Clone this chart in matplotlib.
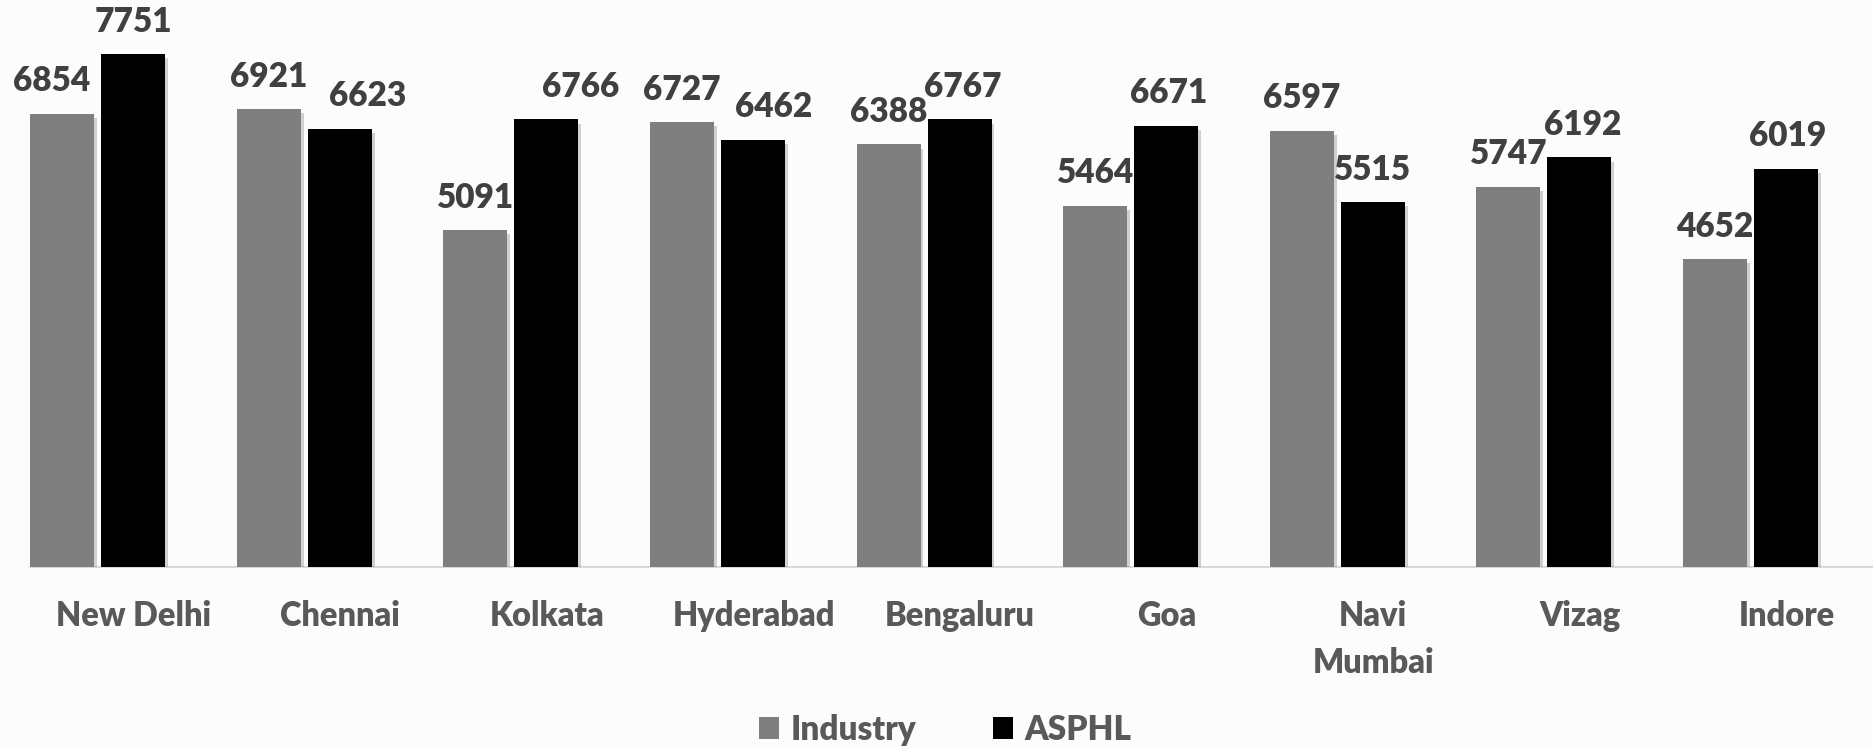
import matplotlib
matplotlib.use("Agg")
import matplotlib.pyplot as plt
import matplotlib.patheffects as pe
import matplotlib.transforms as mtransforms
import numpy as np

# ---- data ----
cities = ["New Delhi", "Chennai", "Kolkata", "Hyderabad", "Bengaluru",
          "Goa", "Navi\nMumbai", "Vizag", "Indore"]
industry = [6854, 6921, 5091, 6727, 6388, 5464, 6597, 5747, 4652]
asphl = [7751, 6623, 6766, 6462, 6767, 6671, 5515, 6192, 6019]
series_names = ["Industry", "ASPHL"]

# ---- style ----
industry_dx = [-11, 0, 0, 0, 0, 0, 0, 0, 0]      # label x nudges (px)
asphl_dx = [0, 28, 34, 21, 3, 2, 0, 3, 2]

W, H, DPI = 1873, 747, 100
bg = "#fcfcfc"
plt.rcParams["font.family"] = ["Lato", "DejaVu Sans"]
plt.rcParams["font.weight"] = "bold"
WEIGHT = "heavy"

fig = plt.figure(figsize=(W / DPI, H / DPI), dpi=DPI, facecolor=bg)
base_px = 567
top_px = base_px - 8000 * 0.06615
ax = fig.add_axes([30 / W, (H - base_px) / H, (W - 30) / W, (base_px - top_px) / H])
ax.set_facecolor("none")

x = np.arange(len(cities))
bw = 0.31
off = 0.172
shadow = [pe.SimplePatchShadow(offset=(2, -3), shadow_rgbFace="#808080", alpha=0.35), pe.Normal()]
b1 = ax.bar(x - off, industry, bw, color="#7f7f7f", label=series_names[0], path_effects=shadow, zorder=3)
b2 = ax.bar(x + off, asphl, bw, color="#000000", label=series_names[1], path_effects=shadow, zorder=3)

ax.set_xlim(-0.328, 8.593)
ax.set_ylim(0, 8000)

pt_per_px = 72 / DPI
for bars, vals, dxs in ((b1, industry, industry_dx), (b2, asphl, asphl_dx)):
    for b, v, dx in zip(bars, vals, dxs):
        ax.annotate(f"{v}", (b.get_x() + b.get_width() / 2, v),
                    xytext=(dx * pt_per_px, 22.5 * pt_per_px), textcoords="offset points",
                    ha="center", va="baseline", fontsize=24, fontweight=WEIGHT,
                    color="#404040", zorder=4)

ax.set_xticks(x)
ax.set_xticklabels(cities, fontsize=23.5, fontweight=WEIGHT, color="#595959", linespacing=1.55)
ax.tick_params(axis="x", length=0, pad=24)
shift = mtransforms.ScaledTranslation(36 / DPI, 0, fig.dpi_scale_trans)
for lab in ax.get_xticklabels():
    lab.set_transform(lab.get_transform() + shift)
ax.set_yticks([])
for s in ["top", "left", "right"]:
    ax.spines[s].set_visible(False)
ax.spines["bottom"].set_color("#d9d9d9")
ax.spines["bottom"].set_linewidth(1.5)

leg = fig.legend(handles=[b1, b2], labels=series_names, loc="center",
                 bbox_to_anchor=(945 / W, 17 / H), ncol=2, frameon=False,
                 prop={"size": 24, "weight": WEIGHT},
                 handlelength=0.62, handleheight=0.62,
                 handletextpad=0.33, columnspacing=2.3, borderaxespad=0)
for t in leg.get_texts():
    t.set_color("#595959")
for h in leg.legend_handles:
    h.set_path_effects([])

fig.savefig("out.png", dpi=DPI, facecolor=bg)
